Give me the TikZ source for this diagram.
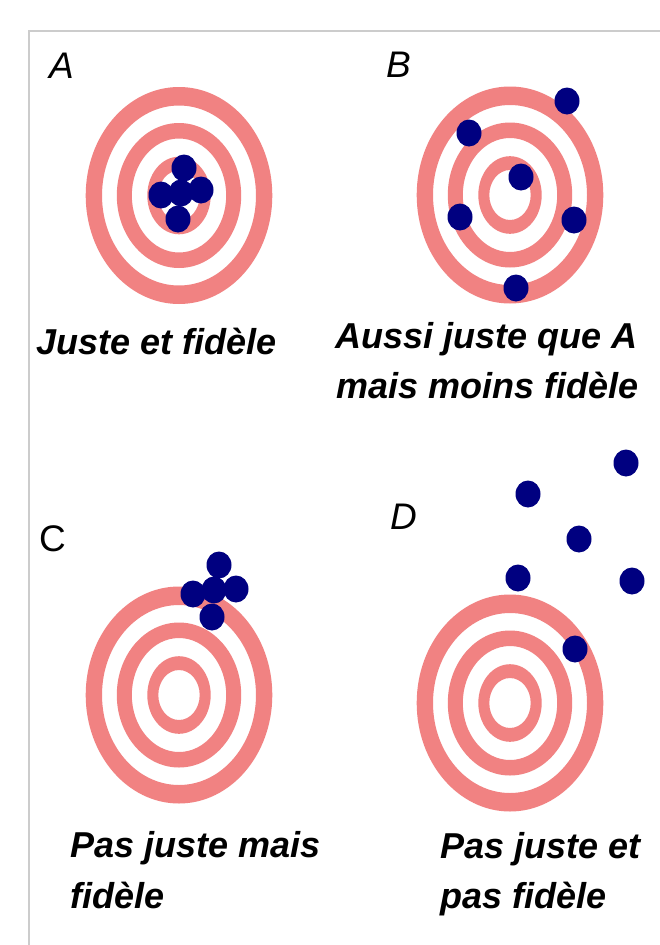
\documentclass[tikz,border=0pt]{standalone}
\usepackage{fontspec}
\setmainfont{Liberation Sans}
\usetikzlibrary{shapes.geometric}
\definecolor{ringc}{RGB}{241,130,130}
\definecolor{navyc}{RGB}{0,0,128}
\definecolor{framec}{RGB}{204,204,204}
\newcommand\drawtarget[1]{%
  \fill[ring] (#1) ellipse [x radius=93.3, y radius=108.5] (#1) ellipse [x radius=77, y radius=90];
  \fill[ring] (#1) ellipse [x radius=62.2, y radius=72.5] (#1) ellipse [x radius=47.2, y radius=57];
  \fill[ring] (#1) ellipse [x radius=31.7, y radius=38.8] (#1) ellipse [x radius=20.7, y radius=25];
}
\begin{document}
\begin{tikzpicture}[x=1pt,y=-1pt,
  ring/.style={fill=ringc, even odd rule},
  dot/.style={ellipse, fill=navyc, inner sep=0pt, minimum width=25pt, minimum height=27pt},
  lab/.style={anchor=base west, inner sep=0pt, font=\fontsize{36}{44}\selectfont\bfseries\itshape},
  letter/.style={anchor=base west, inner sep=0pt, font=\fontsize{37}{44}\selectfont\itshape}]
\useasboundingbox (0,0) rectangle (660,945);
\fill[white] (0,0) rectangle (660,945);
% frame
\coordinate (fbl) at (29,945);
\coordinate (ftl) at (29,31);
\coordinate (ftr) at (660,31);
\draw[framec, line width=2.5pt] (fbl) -- (ftl) -- (ftr);
% target centres
\coordinate (tA) at (179,195.5);
\coordinate (tB) at (510,195);
\coordinate (tC) at (179,695);
\coordinate (tD) at (510,703);
\drawtarget{tA}
\drawtarget{tB}
\drawtarget{tC}
\drawtarget{tD}
% A dots
\node[dot] (a1) at (184,168) {};
\node[dot] (a2) at (161,195) {};
\node[dot] (a3) at (201,190) {};
\node[dot] (a4) at (178,219) {};
\node[dot] (a5) at (181,193) {};
% B dots
\node[dot] (b1) at (567,101) {};
\node[dot] (b2) at (469,133) {};
\node[dot] (b3) at (521,177) {};
\node[dot] (b4) at (460,217) {};
\node[dot] (b5) at (574,220) {};
\node[dot] (b6) at (516,288) {};
% C dots
\node[dot] (c1) at (219,565) {};
\node[dot] (c2) at (193,594) {};
\node[dot] (c3) at (236,589) {};
\node[dot] (c4) at (212,617) {};
\node[dot] (c5) at (214,590) {};
% D dots
\node[dot] (d1) at (626,463) {};
\node[dot] (d2) at (528,494) {};
\node[dot] (d3) at (579,539) {};
\node[dot] (d4) at (518,578) {};
\node[dot] (d5) at (632,581) {};
\node[dot] (d6) at (575,649) {};
% labels
\node[letter] (lA) at (49,78) {A};
\node[letter] (lB) at (386,77) {B};
\node[letter, font=\fontsize{37}{44}\selectfont\upshape] (lC) at (39,551) {C};
\node[letter] (lD) at (390,529) {D};
\node[lab] (tA1) at (36,354) {Juste et fidèle};
\node[lab] (tB1) at (335,348) {Aussi juste que A};
\node[lab] (tB2) at (336,398) {mais moins fidèle};
\node[lab] (tC1) at (70,857) {Pas juste mais};
\node[lab] (tC2) at (70,908) {fidèle};
\node[lab] (tD1) at (440,858) {Pas juste et};
\node[lab] (tD2) at (440,908) {pas fidèle};
\end{tikzpicture}
\end{document}
